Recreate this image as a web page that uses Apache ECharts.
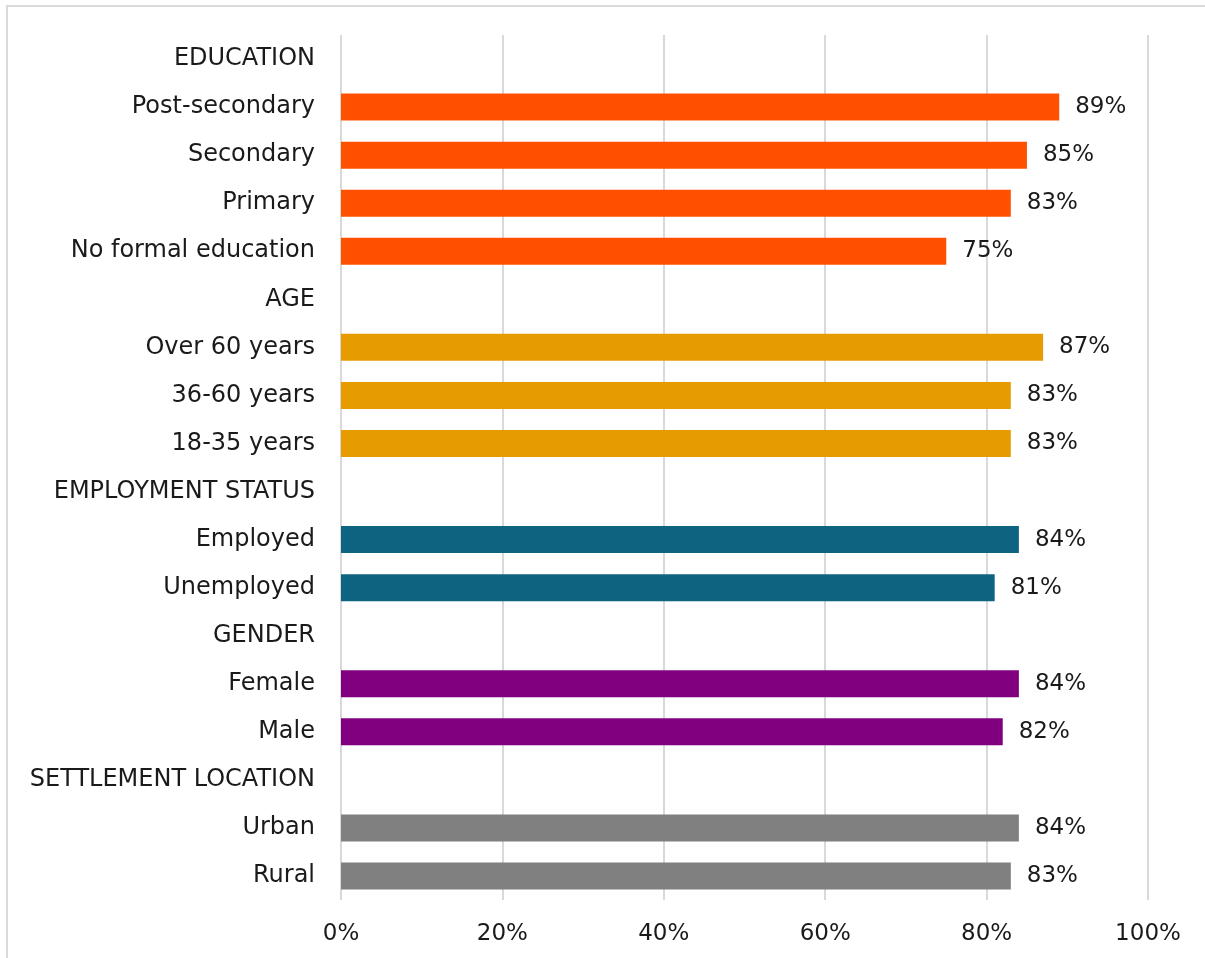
<!DOCTYPE html>
<html>
<head>
<meta charset="utf-8">
<script src="https://cdn.jsdelivr.net/npm/echarts@6/dist/echarts.min.js"></script>
<style>
  html, body { margin: 0; padding: 0; background: #fff; }
  #frame { position: absolute; left: 6px; top: 5px; width: 1210px; height: 970px; border: 2px solid #d9d9d9; box-sizing: border-box; }
  #chart { position: absolute; left: 0; top: 0; width: 1205px; height: 958px; }
</style>
</head>
<body>
<div id="frame"></div>
<div id="chart"></div>
<script>
// rows top to bottom; header rows have no value
const categories = [
  'EDUCATION', 'Post-secondary', 'Secondary', 'Primary', 'No formal education',
  'AGE', 'Over 60 years', '36-60 years', '18-35 years',
  'EMPLOYMENT STATUS', 'Employed', 'Unemployed',
  'GENDER', 'Female', 'Male',
  'SETTLEMENT LOCATION', 'Urban', 'Rural'
]
const values = [
  null, 89, 85, 83, 75,
  null, 87, 83, 83,
  null, 84, 81,
  null, 84, 82,
  null, 84, 83
]
const xTicks = [0, 20, 40, 60, 80, 100]

const groupColors = ['#FF5000', '#E69C00', '#0E6480', '#800080', '#808080']
const fontFamily = '"DejaVu Sans", sans-serif'

// header rows start a new colour group
let g = -1
const barData = values.map(v => {
  if (v === null) { g++; return null }
  return { value: v, itemStyle: { color: groupColors[g] } }
})

const chart = echarts.init(document.getElementById('chart'), null, { renderer: 'canvas' })
chart.setOption({
  animation: false,
  grid: { left: 341, right: 57, top: 35, bottom: 58, containLabel: false },
  xAxis: {
    type: 'value',
    min: xTicks[0],
    max: xTicks[xTicks.length - 1],
    interval: 20,
    axisLine: { show: false },
    axisTick: { show: false },
    splitLine: { show: true, lineStyle: { color: '#d9d9d9', width: 2 } },
    axisLabel: { formatter: '{value}%', color: '#1a1a1a', fontSize: 23, fontFamily, margin: 23 }
  },
  yAxis: {
    type: 'category',
    inverse: true,
    data: categories,
    axisLine: { show: false },
    axisTick: { show: false },
    axisLabel: { color: '#1a1a1a', fontSize: 24, fontFamily, margin: 26 }
  },
  series: [{
    type: 'bar',
    data: barData,
    barWidth: 27,
    label: {
      show: true,
      position: 'right',
      distance: 16,
      formatter: '{c}%',
      color: '#1a1a1a',
      fontSize: 23,
      fontFamily
    }
  }]
})
</script>
</body>
</html>
